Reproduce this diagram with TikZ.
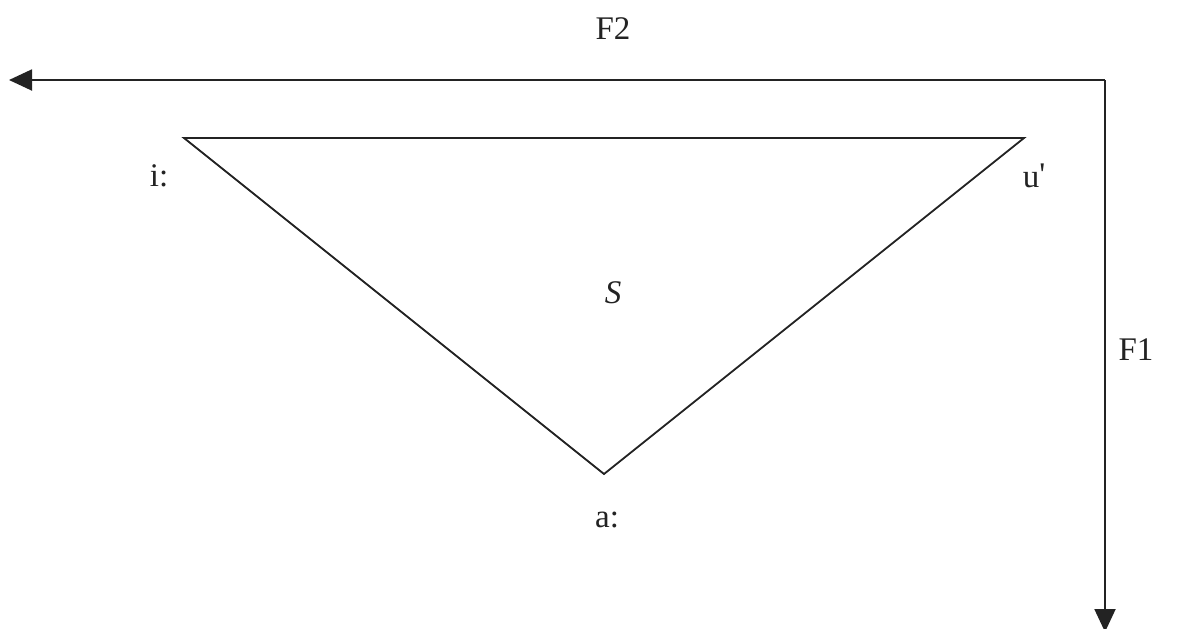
\documentclass[tikz,border=0pt]{standalone}
\usepackage{fontspec}
\setmainfont{Liberation Serif}
\usetikzlibrary{arrows.meta}
\begin{document}
\begin{tikzpicture}[x=1pt,y=-1pt,
  axis/.style={line width=1.9pt, draw={rgb,255:red,35;green,35;blue,35}, -{Triangle[length=23pt,width=21pt]}},
  tri/.style={line width=1.8pt, draw={rgb,255:red,35;green,35;blue,35}, line join=miter},
  lbl/.style={inner sep=0pt, font=\fontsize{33}{38}\selectfont, text={rgb,255:red,35;green,35;blue,35}}]
\useasboundingbox (0,0) rectangle (1181,629);
\fill[white] (0,0) rectangle (1181,629);
\coordinate (corner) at (1105,80);
\coordinate (left) at (9,80);
\coordinate (down) at (1105,632);
\coordinate (I) at (184,138);
\coordinate (U) at (1024,138);
\coordinate (A) at (604,474);
\draw[axis] (corner) -- (left);
\draw[axis] (corner) -- (down);
\draw[tri] (I) -- (U) -- (A) -- cycle;
\node[lbl] (f2) at (613,29) {F2};
\node[lbl] (f1) at (1136,350) {F1};
\node[lbl] (li) at (159,176) {i:};
\node[lbl] (lu) at (1034,176) {u\raisebox{2pt}{\textquotesingle}};
\node[lbl] (ls) at (613,293) {\itshape S};
\node[lbl] (la) at (607,520) {a:};
\end{tikzpicture}
\end{document}
